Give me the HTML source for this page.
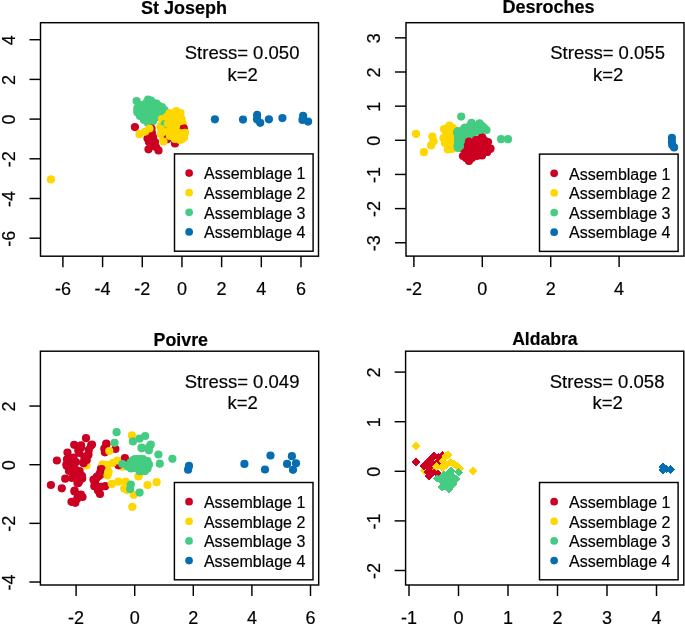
<!DOCTYPE html>
<html><head><meta charset="utf-8"><style>
html,body{margin:0;padding:0;background:#fff;width:685px;height:626px;overflow:hidden}
svg{display:block;will-change:transform}
text{font-family:"Liberation Sans",sans-serif;fill:#000;stroke:#000;stroke-width:0.18px}
</style></head><body>
<svg width="685" height="626" viewBox="0 0 685 626">
<rect width="685" height="626" fill="#fff"/>
<clipPath id="cStJoseph"><rect x="40.5" y="22.7" width="278" height="233.5"/></clipPath>
<g clip-path="url(#cStJoseph)">
<circle cx="141.5" cy="105" r="4.1" fill="#44CC82"/>
<circle cx="148.1" cy="99.5" r="4.1" fill="#44CC82"/>
<circle cx="151" cy="100.5" r="4.1" fill="#44CC82"/>
<circle cx="156.5" cy="103.5" r="4.1" fill="#44CC82"/>
<circle cx="162" cy="107" r="4.1" fill="#44CC82"/>
<circle cx="164.5" cy="110" r="4.1" fill="#44CC82"/>
<circle cx="160" cy="113" r="4.1" fill="#44CC82"/>
<circle cx="156" cy="117" r="4.1" fill="#44CC82"/>
<circle cx="153" cy="121" r="4.1" fill="#44CC82"/>
<circle cx="148" cy="123" r="4.1" fill="#44CC82"/>
<circle cx="144" cy="120" r="4.1" fill="#44CC82"/>
<circle cx="140" cy="116" r="4.1" fill="#44CC82"/>
<circle cx="137.5" cy="112.5" r="4.1" fill="#44CC82"/>
<circle cx="137.5" cy="108" r="4.1" fill="#44CC82"/>
<circle cx="146.5" cy="102.5" r="4.1" fill="#44CC82"/>
<circle cx="149.5" cy="102.5" r="4.1" fill="#44CC82"/>
<circle cx="152.5" cy="102.5" r="4.1" fill="#44CC82"/>
<circle cx="143.5" cy="105.5" r="4.1" fill="#44CC82"/>
<circle cx="146.5" cy="105.5" r="4.1" fill="#44CC82"/>
<circle cx="149.5" cy="105.5" r="4.1" fill="#44CC82"/>
<circle cx="152.5" cy="105.5" r="4.1" fill="#44CC82"/>
<circle cx="155.5" cy="105.5" r="4.1" fill="#44CC82"/>
<circle cx="158.5" cy="105.5" r="4.1" fill="#44CC82"/>
<circle cx="137.5" cy="108.5" r="4.1" fill="#44CC82"/>
<circle cx="140.5" cy="108.5" r="4.1" fill="#44CC82"/>
<circle cx="143.5" cy="108.5" r="4.1" fill="#44CC82"/>
<circle cx="146.5" cy="108.5" r="4.1" fill="#44CC82"/>
<circle cx="149.5" cy="108.5" r="4.1" fill="#44CC82"/>
<circle cx="152.5" cy="108.5" r="4.1" fill="#44CC82"/>
<circle cx="155.5" cy="108.5" r="4.1" fill="#44CC82"/>
<circle cx="158.5" cy="108.5" r="4.1" fill="#44CC82"/>
<circle cx="161.5" cy="108.5" r="4.1" fill="#44CC82"/>
<circle cx="137.5" cy="111.5" r="4.1" fill="#44CC82"/>
<circle cx="140.5" cy="111.5" r="4.1" fill="#44CC82"/>
<circle cx="143.5" cy="111.5" r="4.1" fill="#44CC82"/>
<circle cx="146.5" cy="111.5" r="4.1" fill="#44CC82"/>
<circle cx="149.5" cy="111.5" r="4.1" fill="#44CC82"/>
<circle cx="152.5" cy="111.5" r="4.1" fill="#44CC82"/>
<circle cx="155.5" cy="111.5" r="4.1" fill="#44CC82"/>
<circle cx="158.5" cy="111.5" r="4.1" fill="#44CC82"/>
<circle cx="161.5" cy="111.5" r="4.1" fill="#44CC82"/>
<circle cx="140.5" cy="114.5" r="4.1" fill="#44CC82"/>
<circle cx="143.5" cy="114.5" r="4.1" fill="#44CC82"/>
<circle cx="146.5" cy="114.5" r="4.1" fill="#44CC82"/>
<circle cx="149.5" cy="114.5" r="4.1" fill="#44CC82"/>
<circle cx="152.5" cy="114.5" r="4.1" fill="#44CC82"/>
<circle cx="155.5" cy="114.5" r="4.1" fill="#44CC82"/>
<circle cx="158.5" cy="114.5" r="4.1" fill="#44CC82"/>
<circle cx="143.5" cy="117.5" r="4.1" fill="#44CC82"/>
<circle cx="146.5" cy="117.5" r="4.1" fill="#44CC82"/>
<circle cx="149.5" cy="117.5" r="4.1" fill="#44CC82"/>
<circle cx="152.5" cy="117.5" r="4.1" fill="#44CC82"/>
<circle cx="155.5" cy="117.5" r="4.1" fill="#44CC82"/>
<circle cx="146.5" cy="120.5" r="4.1" fill="#44CC82"/>
<circle cx="149.5" cy="120.5" r="4.1" fill="#44CC82"/>
<circle cx="152.5" cy="120.5" r="4.1" fill="#44CC82"/>
<circle cx="136.6" cy="101.1" r="4.1" fill="#44CC82"/>
<circle cx="151.5" cy="128.5" r="4.1" fill="#CB0022"/>
<circle cx="152" cy="133" r="4.1" fill="#CB0022"/>
<circle cx="153" cy="137" r="4.1" fill="#CB0022"/>
<circle cx="147.5" cy="138.5" r="4.1" fill="#CB0022"/>
<circle cx="149" cy="142" r="4.1" fill="#CB0022"/>
<circle cx="155" cy="142" r="4.1" fill="#CB0022"/>
<circle cx="153.5" cy="146" r="4.1" fill="#CB0022"/>
<circle cx="148.5" cy="149.3" r="4.1" fill="#CB0022"/>
<circle cx="158.5" cy="150.4" r="4.1" fill="#CB0022"/>
<circle cx="156" cy="147" r="4.1" fill="#CB0022"/>
<circle cx="134.9" cy="127.1" r="4.1" fill="#CB0022"/>
<circle cx="139.5" cy="134.2" r="4.1" fill="#FFD700"/>
<circle cx="145.2" cy="131.6" r="4.1" fill="#FFD700"/>
<circle cx="149.5" cy="128.5" r="4.1" fill="#FFD700"/>
<circle cx="169.5" cy="113" r="4.1" fill="#FFD700"/>
<circle cx="176.3" cy="111.2" r="4.1" fill="#FFD700"/>
<circle cx="180.5" cy="113" r="4.1" fill="#FFD700"/>
<circle cx="181.5" cy="119" r="4.1" fill="#FFD700"/>
<circle cx="183" cy="124" r="4.1" fill="#FFD700"/>
<circle cx="185" cy="132.5" r="4.1" fill="#FFD700"/>
<circle cx="184" cy="137.5" r="4.1" fill="#FFD700"/>
<circle cx="182" cy="139" r="4.1" fill="#FFD700"/>
<circle cx="178" cy="138" r="4.1" fill="#FFD700"/>
<circle cx="171" cy="137.5" r="4.1" fill="#FFD700"/>
<circle cx="163.5" cy="139.5" r="4.1" fill="#FFD700"/>
<circle cx="161" cy="134" r="4.1" fill="#FFD700"/>
<circle cx="160.5" cy="126" r="4.1" fill="#FFD700"/>
<circle cx="162" cy="119" r="4.1" fill="#FFD700"/>
<circle cx="169.5" cy="114.2" r="4.1" fill="#FFD700"/>
<circle cx="172.5" cy="114.2" r="4.1" fill="#FFD700"/>
<circle cx="175.5" cy="114.2" r="4.1" fill="#FFD700"/>
<circle cx="178.5" cy="114.2" r="4.1" fill="#FFD700"/>
<circle cx="166.5" cy="117.2" r="4.1" fill="#FFD700"/>
<circle cx="169.5" cy="117.2" r="4.1" fill="#FFD700"/>
<circle cx="172.5" cy="117.2" r="4.1" fill="#FFD700"/>
<circle cx="175.5" cy="117.2" r="4.1" fill="#FFD700"/>
<circle cx="178.5" cy="117.2" r="4.1" fill="#FFD700"/>
<circle cx="163.5" cy="120.2" r="4.1" fill="#FFD700"/>
<circle cx="166.5" cy="120.2" r="4.1" fill="#FFD700"/>
<circle cx="169.5" cy="120.2" r="4.1" fill="#FFD700"/>
<circle cx="172.5" cy="120.2" r="4.1" fill="#FFD700"/>
<circle cx="175.5" cy="120.2" r="4.1" fill="#FFD700"/>
<circle cx="178.5" cy="120.2" r="4.1" fill="#FFD700"/>
<circle cx="181.5" cy="120.2" r="4.1" fill="#FFD700"/>
<circle cx="163.5" cy="123.2" r="4.1" fill="#FFD700"/>
<circle cx="166.5" cy="123.2" r="4.1" fill="#FFD700"/>
<circle cx="169.5" cy="123.2" r="4.1" fill="#FFD700"/>
<circle cx="172.5" cy="123.2" r="4.1" fill="#FFD700"/>
<circle cx="175.5" cy="123.2" r="4.1" fill="#FFD700"/>
<circle cx="178.5" cy="123.2" r="4.1" fill="#FFD700"/>
<circle cx="181.5" cy="123.2" r="4.1" fill="#FFD700"/>
<circle cx="163.5" cy="126.2" r="4.1" fill="#FFD700"/>
<circle cx="166.5" cy="126.2" r="4.1" fill="#FFD700"/>
<circle cx="169.5" cy="126.2" r="4.1" fill="#FFD700"/>
<circle cx="172.5" cy="126.2" r="4.1" fill="#FFD700"/>
<circle cx="175.5" cy="126.2" r="4.1" fill="#FFD700"/>
<circle cx="178.5" cy="126.2" r="4.1" fill="#FFD700"/>
<circle cx="181.5" cy="126.2" r="4.1" fill="#FFD700"/>
<circle cx="163.5" cy="129.2" r="4.1" fill="#FFD700"/>
<circle cx="166.5" cy="129.2" r="4.1" fill="#FFD700"/>
<circle cx="169.5" cy="129.2" r="4.1" fill="#FFD700"/>
<circle cx="172.5" cy="129.2" r="4.1" fill="#FFD700"/>
<circle cx="175.5" cy="129.2" r="4.1" fill="#FFD700"/>
<circle cx="178.5" cy="129.2" r="4.1" fill="#FFD700"/>
<circle cx="181.5" cy="129.2" r="4.1" fill="#FFD700"/>
<circle cx="163.5" cy="132.2" r="4.1" fill="#FFD700"/>
<circle cx="166.5" cy="132.2" r="4.1" fill="#FFD700"/>
<circle cx="169.5" cy="132.2" r="4.1" fill="#FFD700"/>
<circle cx="172.5" cy="132.2" r="4.1" fill="#FFD700"/>
<circle cx="175.5" cy="132.2" r="4.1" fill="#FFD700"/>
<circle cx="178.5" cy="132.2" r="4.1" fill="#FFD700"/>
<circle cx="181.5" cy="132.2" r="4.1" fill="#FFD700"/>
<circle cx="184.5" cy="132.2" r="4.1" fill="#FFD700"/>
<circle cx="163.5" cy="135.2" r="4.1" fill="#FFD700"/>
<circle cx="166.5" cy="135.2" r="4.1" fill="#FFD700"/>
<circle cx="169.5" cy="135.2" r="4.1" fill="#FFD700"/>
<circle cx="172.5" cy="135.2" r="4.1" fill="#FFD700"/>
<circle cx="175.5" cy="135.2" r="4.1" fill="#FFD700"/>
<circle cx="178.5" cy="135.2" r="4.1" fill="#FFD700"/>
<circle cx="181.5" cy="135.2" r="4.1" fill="#FFD700"/>
<circle cx="163.5" cy="138.2" r="4.1" fill="#FFD700"/>
<circle cx="166.5" cy="138.2" r="4.1" fill="#FFD700"/>
<circle cx="181.5" cy="138.2" r="4.1" fill="#FFD700"/>
<circle cx="183.8" cy="128.3" r="4.1" fill="#CB0022"/>
<circle cx="185" cy="132.8" r="4.1" fill="#FFD700"/>
<circle cx="180" cy="133" r="4.1" fill="#FFD700"/>
<circle cx="181" cy="121" r="4.1" fill="#FFD700"/>
<circle cx="175" cy="143.5" r="4.1" fill="#CB0022"/>
<circle cx="167.3" cy="139.2" r="4.1" fill="#CB0022"/>
<circle cx="175" cy="139" r="4.1" fill="#FFD700"/>
<circle cx="170" cy="136" r="4.1" fill="#FFD700"/>
<circle cx="163.5" cy="141.5" r="4.1" fill="#FFD700"/>
<circle cx="180" cy="140" r="4.1" fill="#FFD700"/>
<circle cx="164.8" cy="124" r="4.1" fill="#44CC82"/>
<circle cx="167.8" cy="123.5" r="4.1" fill="#FFD700"/>
<circle cx="161" cy="129" r="4.1" fill="#FFD700"/>
<circle cx="50.9" cy="179.4" r="4.1" fill="#FFD700"/>
<circle cx="214.9" cy="119.3" r="4.1" fill="#066EB0"/>
<circle cx="243" cy="119.6" r="4.1" fill="#066EB0"/>
<circle cx="257.1" cy="114.9" r="4.1" fill="#066EB0"/>
<circle cx="257" cy="119.3" r="4.1" fill="#066EB0"/>
<circle cx="260.2" cy="122.8" r="4.1" fill="#066EB0"/>
<circle cx="268.9" cy="119.3" r="4.1" fill="#066EB0"/>
<circle cx="282.4" cy="118.1" r="4.1" fill="#066EB0"/>
<circle cx="303.1" cy="115.8" r="4.1" fill="#066EB0"/>
<circle cx="302.5" cy="119.9" r="4.1" fill="#066EB0"/>
<circle cx="308.1" cy="121.6" r="4.1" fill="#066EB0"/>
</g>
<rect x="40.5" y="22.7" width="278" height="233.5" fill="none" stroke="#000" stroke-width="1.45"/>
<line x1="62.91" y1="256.2" x2="62.91" y2="267.2" stroke="#000" stroke-width="1.45"/>
<text x="62.91" y="295.4" text-anchor="middle" font-size="18">-6</text>
<line x1="102.59" y1="256.2" x2="102.59" y2="267.2" stroke="#000" stroke-width="1.45"/>
<text x="102.59" y="295.4" text-anchor="middle" font-size="18">-4</text>
<line x1="142.27" y1="256.2" x2="142.27" y2="267.2" stroke="#000" stroke-width="1.45"/>
<text x="142.27" y="295.4" text-anchor="middle" font-size="18">-2</text>
<line x1="181.95" y1="256.2" x2="181.95" y2="267.2" stroke="#000" stroke-width="1.45"/>
<text x="181.95" y="295.4" text-anchor="middle" font-size="18">0</text>
<line x1="221.63" y1="256.2" x2="221.63" y2="267.2" stroke="#000" stroke-width="1.45"/>
<text x="221.63" y="295.4" text-anchor="middle" font-size="18">2</text>
<line x1="261.31" y1="256.2" x2="261.31" y2="267.2" stroke="#000" stroke-width="1.45"/>
<text x="261.31" y="295.4" text-anchor="middle" font-size="18">4</text>
<line x1="300.99" y1="256.2" x2="300.99" y2="267.2" stroke="#000" stroke-width="1.45"/>
<text x="300.99" y="295.4" text-anchor="middle" font-size="18">6</text>
<line x1="40.5" y1="39.7" x2="29.5" y2="39.7" stroke="#000" stroke-width="1.45"/>
<text transform="translate(14.8 40.2) rotate(-90)" text-anchor="middle" font-size="18">4</text>
<line x1="40.5" y1="79.4" x2="29.5" y2="79.4" stroke="#000" stroke-width="1.45"/>
<text transform="translate(14.8 79.9) rotate(-90)" text-anchor="middle" font-size="18">2</text>
<line x1="40.5" y1="119.1" x2="29.5" y2="119.1" stroke="#000" stroke-width="1.45"/>
<text transform="translate(14.8 119.6) rotate(-90)" text-anchor="middle" font-size="18">0</text>
<line x1="40.5" y1="158.8" x2="29.5" y2="158.8" stroke="#000" stroke-width="1.45"/>
<text transform="translate(14.8 159.3) rotate(-90)" text-anchor="middle" font-size="18">-2</text>
<line x1="40.5" y1="198.5" x2="29.5" y2="198.5" stroke="#000" stroke-width="1.45"/>
<text transform="translate(14.8 199) rotate(-90)" text-anchor="middle" font-size="18">-4</text>
<line x1="40.5" y1="238.2" x2="29.5" y2="238.2" stroke="#000" stroke-width="1.45"/>
<text transform="translate(14.8 238.7) rotate(-90)" text-anchor="middle" font-size="18">-6</text>
<text x="183.9" y="14.2" text-anchor="middle" font-size="18" font-weight="bold">St Joseph</text>
<text x="242.1" y="59.2" text-anchor="middle" font-size="18.5">Stress= 0.050</text>
<text x="242.7" y="80.7" text-anchor="middle" font-size="18.5">k=2</text>
<rect x="174.5" y="153.9" width="138.6" height="97.3" fill="#fff" stroke="#000" stroke-width="1.45"/>
<circle cx="189.15" cy="173.1" r="3.85" fill="#CB0022"/>
<text x="204" y="179.3" font-size="16">Assemblage 1</text>
<circle cx="189.15" cy="192.72" r="3.85" fill="#FFD700"/>
<text x="204" y="198.92" font-size="16">Assemblage 2</text>
<circle cx="189.15" cy="212.34" r="3.85" fill="#44CC82"/>
<text x="204" y="218.54" font-size="16">Assemblage 3</text>
<circle cx="189.15" cy="231.96" r="3.85" fill="#066EB0"/>
<text x="204" y="238.16" font-size="16">Assemblage 4</text>
<clipPath id="cDesroches"><rect x="406" y="22.7" width="278" height="233.4"/></clipPath>
<g clip-path="url(#cDesroches)">
<circle cx="416" cy="133.9" r="4.1" fill="#FFD700"/>
<circle cx="423.9" cy="152.2" r="4.1" fill="#FFD700"/>
<circle cx="432.4" cy="136.7" r="4.1" fill="#FFD700"/>
<circle cx="433.6" cy="141.3" r="4.1" fill="#FFD700"/>
<circle cx="431.1" cy="145.4" r="4.1" fill="#FFD700"/>
<circle cx="444" cy="129" r="4.1" fill="#FFD700"/>
<circle cx="449.5" cy="125.5" r="4.1" fill="#FFD700"/>
<circle cx="453" cy="128" r="4.1" fill="#FFD700"/>
<circle cx="455" cy="133" r="4.1" fill="#FFD700"/>
<circle cx="453" cy="138" r="4.1" fill="#FFD700"/>
<circle cx="452" cy="145" r="4.1" fill="#FFD700"/>
<circle cx="452" cy="149" r="4.1" fill="#FFD700"/>
<circle cx="447.8" cy="149.5" r="4.1" fill="#FFD700"/>
<circle cx="445" cy="143" r="4.1" fill="#FFD700"/>
<circle cx="443.5" cy="138" r="4.1" fill="#FFD700"/>
<circle cx="446.5" cy="128.5" r="4.1" fill="#FFD700"/>
<circle cx="449.5" cy="128.5" r="4.1" fill="#FFD700"/>
<circle cx="452.5" cy="128.5" r="4.1" fill="#FFD700"/>
<circle cx="446.5" cy="131.5" r="4.1" fill="#FFD700"/>
<circle cx="449.5" cy="131.5" r="4.1" fill="#FFD700"/>
<circle cx="452.5" cy="131.5" r="4.1" fill="#FFD700"/>
<circle cx="446.5" cy="134.5" r="4.1" fill="#FFD700"/>
<circle cx="449.5" cy="134.5" r="4.1" fill="#FFD700"/>
<circle cx="452.5" cy="134.5" r="4.1" fill="#FFD700"/>
<circle cx="446.5" cy="137.5" r="4.1" fill="#FFD700"/>
<circle cx="449.5" cy="137.5" r="4.1" fill="#FFD700"/>
<circle cx="452.5" cy="137.5" r="4.1" fill="#FFD700"/>
<circle cx="446.5" cy="140.5" r="4.1" fill="#FFD700"/>
<circle cx="449.5" cy="140.5" r="4.1" fill="#FFD700"/>
<circle cx="452.5" cy="140.5" r="4.1" fill="#FFD700"/>
<circle cx="446.5" cy="143.5" r="4.1" fill="#FFD700"/>
<circle cx="449.5" cy="143.5" r="4.1" fill="#FFD700"/>
<circle cx="449.5" cy="146.5" r="4.1" fill="#FFD700"/>
<circle cx="465" cy="145" r="4.1" fill="#CB0022"/>
<circle cx="474" cy="142.5" r="4.1" fill="#CB0022"/>
<circle cx="482" cy="137" r="4.1" fill="#CB0022"/>
<circle cx="488" cy="142" r="4.1" fill="#CB0022"/>
<circle cx="490.5" cy="148.5" r="4.1" fill="#CB0022"/>
<circle cx="487" cy="152" r="4.1" fill="#CB0022"/>
<circle cx="482" cy="155.5" r="4.1" fill="#CB0022"/>
<circle cx="477" cy="156" r="4.1" fill="#CB0022"/>
<circle cx="469" cy="161" r="4.1" fill="#CB0022"/>
<circle cx="463" cy="156" r="4.1" fill="#CB0022"/>
<circle cx="463.5" cy="149" r="4.1" fill="#CB0022"/>
<circle cx="478" cy="140" r="4.1" fill="#CB0022"/>
<circle cx="481" cy="140" r="4.1" fill="#CB0022"/>
<circle cx="484" cy="140" r="4.1" fill="#CB0022"/>
<circle cx="475" cy="143" r="4.1" fill="#CB0022"/>
<circle cx="478" cy="143" r="4.1" fill="#CB0022"/>
<circle cx="481" cy="143" r="4.1" fill="#CB0022"/>
<circle cx="484" cy="143" r="4.1" fill="#CB0022"/>
<circle cx="487" cy="143" r="4.1" fill="#CB0022"/>
<circle cx="466" cy="146" r="4.1" fill="#CB0022"/>
<circle cx="469" cy="146" r="4.1" fill="#CB0022"/>
<circle cx="472" cy="146" r="4.1" fill="#CB0022"/>
<circle cx="475" cy="146" r="4.1" fill="#CB0022"/>
<circle cx="478" cy="146" r="4.1" fill="#CB0022"/>
<circle cx="481" cy="146" r="4.1" fill="#CB0022"/>
<circle cx="484" cy="146" r="4.1" fill="#CB0022"/>
<circle cx="487" cy="146" r="4.1" fill="#CB0022"/>
<circle cx="466" cy="149" r="4.1" fill="#CB0022"/>
<circle cx="469" cy="149" r="4.1" fill="#CB0022"/>
<circle cx="472" cy="149" r="4.1" fill="#CB0022"/>
<circle cx="475" cy="149" r="4.1" fill="#CB0022"/>
<circle cx="478" cy="149" r="4.1" fill="#CB0022"/>
<circle cx="481" cy="149" r="4.1" fill="#CB0022"/>
<circle cx="484" cy="149" r="4.1" fill="#CB0022"/>
<circle cx="487" cy="149" r="4.1" fill="#CB0022"/>
<circle cx="490" cy="149" r="4.1" fill="#CB0022"/>
<circle cx="466" cy="152" r="4.1" fill="#CB0022"/>
<circle cx="469" cy="152" r="4.1" fill="#CB0022"/>
<circle cx="472" cy="152" r="4.1" fill="#CB0022"/>
<circle cx="475" cy="152" r="4.1" fill="#CB0022"/>
<circle cx="478" cy="152" r="4.1" fill="#CB0022"/>
<circle cx="481" cy="152" r="4.1" fill="#CB0022"/>
<circle cx="484" cy="152" r="4.1" fill="#CB0022"/>
<circle cx="487" cy="152" r="4.1" fill="#CB0022"/>
<circle cx="466" cy="155" r="4.1" fill="#CB0022"/>
<circle cx="469" cy="155" r="4.1" fill="#CB0022"/>
<circle cx="472" cy="155" r="4.1" fill="#CB0022"/>
<circle cx="475" cy="155" r="4.1" fill="#CB0022"/>
<circle cx="478" cy="155" r="4.1" fill="#CB0022"/>
<circle cx="481" cy="155" r="4.1" fill="#CB0022"/>
<circle cx="466" cy="158" r="4.1" fill="#CB0022"/>
<circle cx="469" cy="158" r="4.1" fill="#CB0022"/>
<circle cx="472" cy="158" r="4.1" fill="#CB0022"/>
<circle cx="458" cy="131" r="4.1" fill="#44CC82"/>
<circle cx="465" cy="127.5" r="4.1" fill="#44CC82"/>
<circle cx="471.5" cy="122.8" r="4.1" fill="#44CC82"/>
<circle cx="479.5" cy="123.3" r="4.1" fill="#44CC82"/>
<circle cx="484" cy="127.5" r="4.1" fill="#44CC82"/>
<circle cx="480" cy="130" r="4.1" fill="#44CC82"/>
<circle cx="472" cy="134" r="4.1" fill="#44CC82"/>
<circle cx="463" cy="137" r="4.1" fill="#44CC82"/>
<circle cx="460" cy="146" r="4.1" fill="#44CC82"/>
<circle cx="458" cy="148" r="4.1" fill="#44CC82"/>
<circle cx="458" cy="141" r="4.1" fill="#44CC82"/>
<circle cx="470" cy="125.8" r="4.1" fill="#44CC82"/>
<circle cx="473" cy="125.8" r="4.1" fill="#44CC82"/>
<circle cx="476" cy="125.8" r="4.1" fill="#44CC82"/>
<circle cx="479" cy="125.8" r="4.1" fill="#44CC82"/>
<circle cx="482" cy="125.8" r="4.1" fill="#44CC82"/>
<circle cx="464" cy="128.8" r="4.1" fill="#44CC82"/>
<circle cx="467" cy="128.8" r="4.1" fill="#44CC82"/>
<circle cx="470" cy="128.8" r="4.1" fill="#44CC82"/>
<circle cx="473" cy="128.8" r="4.1" fill="#44CC82"/>
<circle cx="476" cy="128.8" r="4.1" fill="#44CC82"/>
<circle cx="479" cy="128.8" r="4.1" fill="#44CC82"/>
<circle cx="458" cy="131.8" r="4.1" fill="#44CC82"/>
<circle cx="461" cy="131.8" r="4.1" fill="#44CC82"/>
<circle cx="464" cy="131.8" r="4.1" fill="#44CC82"/>
<circle cx="467" cy="131.8" r="4.1" fill="#44CC82"/>
<circle cx="470" cy="131.8" r="4.1" fill="#44CC82"/>
<circle cx="473" cy="131.8" r="4.1" fill="#44CC82"/>
<circle cx="476" cy="131.8" r="4.1" fill="#44CC82"/>
<circle cx="458" cy="134.8" r="4.1" fill="#44CC82"/>
<circle cx="461" cy="134.8" r="4.1" fill="#44CC82"/>
<circle cx="464" cy="134.8" r="4.1" fill="#44CC82"/>
<circle cx="467" cy="134.8" r="4.1" fill="#44CC82"/>
<circle cx="458" cy="137.8" r="4.1" fill="#44CC82"/>
<circle cx="461" cy="137.8" r="4.1" fill="#44CC82"/>
<circle cx="458" cy="140.8" r="4.1" fill="#44CC82"/>
<circle cx="461" cy="140.8" r="4.1" fill="#44CC82"/>
<circle cx="458" cy="143.8" r="4.1" fill="#44CC82"/>
<circle cx="458" cy="146.8" r="4.1" fill="#44CC82"/>
<circle cx="469" cy="141.5" r="4.1" fill="#CB0022"/>
<circle cx="476" cy="140" r="4.1" fill="#CB0022"/>
<circle cx="482" cy="138" r="4.1" fill="#CB0022"/>
<circle cx="457" cy="132.5" r="4.1" fill="#44CC82"/>
<circle cx="486.5" cy="130" r="4.1" fill="#44CC82"/>
<circle cx="457.5" cy="146.5" r="4.1" fill="#44CC82"/>
<circle cx="461.2" cy="116.6" r="4.1" fill="#44CC82"/>
<circle cx="501.1" cy="139.2" r="4.1" fill="#44CC82"/>
<circle cx="508" cy="139.2" r="4.1" fill="#44CC82"/>
<circle cx="671.9" cy="137.9" r="4.1" fill="#066EB0"/>
<circle cx="671.9" cy="142" r="4.1" fill="#066EB0"/>
<circle cx="672.2" cy="144.9" r="4.1" fill="#066EB0"/>
<circle cx="674.1" cy="147.4" r="4.1" fill="#066EB0"/>
</g>
<rect x="406" y="22.7" width="278" height="233.4" fill="none" stroke="#000" stroke-width="1.45"/>
<line x1="413.9" y1="256.1" x2="413.9" y2="267.1" stroke="#000" stroke-width="1.45"/>
<text x="413.9" y="295.3" text-anchor="middle" font-size="18">-2</text>
<line x1="482.3" y1="256.1" x2="482.3" y2="267.1" stroke="#000" stroke-width="1.45"/>
<text x="482.3" y="295.3" text-anchor="middle" font-size="18">0</text>
<line x1="550.7" y1="256.1" x2="550.7" y2="267.1" stroke="#000" stroke-width="1.45"/>
<text x="550.7" y="295.3" text-anchor="middle" font-size="18">2</text>
<line x1="619.1" y1="256.1" x2="619.1" y2="267.1" stroke="#000" stroke-width="1.45"/>
<text x="619.1" y="295.3" text-anchor="middle" font-size="18">4</text>
<line x1="406" y1="37.85" x2="395" y2="37.85" stroke="#000" stroke-width="1.45"/>
<text transform="translate(380.3 38.35) rotate(-90)" text-anchor="middle" font-size="18">3</text>
<line x1="406" y1="72" x2="395" y2="72" stroke="#000" stroke-width="1.45"/>
<text transform="translate(380.3 72.5) rotate(-90)" text-anchor="middle" font-size="18">2</text>
<line x1="406" y1="106.15" x2="395" y2="106.15" stroke="#000" stroke-width="1.45"/>
<text transform="translate(380.3 106.65) rotate(-90)" text-anchor="middle" font-size="18">1</text>
<line x1="406" y1="140.3" x2="395" y2="140.3" stroke="#000" stroke-width="1.45"/>
<text transform="translate(380.3 140.8) rotate(-90)" text-anchor="middle" font-size="18">0</text>
<line x1="406" y1="174.45" x2="395" y2="174.45" stroke="#000" stroke-width="1.45"/>
<text transform="translate(380.3 174.95) rotate(-90)" text-anchor="middle" font-size="18">-1</text>
<line x1="406" y1="208.6" x2="395" y2="208.6" stroke="#000" stroke-width="1.45"/>
<text transform="translate(380.3 209.1) rotate(-90)" text-anchor="middle" font-size="18">-2</text>
<line x1="406" y1="242.75" x2="395" y2="242.75" stroke="#000" stroke-width="1.45"/>
<text transform="translate(380.3 243.25) rotate(-90)" text-anchor="middle" font-size="18">-3</text>
<text x="548.6" y="13.4" text-anchor="middle" font-size="18" font-weight="bold">Desroches</text>
<text x="607.6" y="59.2" text-anchor="middle" font-size="18.5">Stress= 0.055</text>
<text x="608.2" y="80.7" text-anchor="middle" font-size="18.5">k=2</text>
<rect x="539.5" y="154.1" width="138.6" height="97.3" fill="#fff" stroke="#000" stroke-width="1.45"/>
<circle cx="554.15" cy="173.3" r="3.85" fill="#CB0022"/>
<text x="569" y="179.5" font-size="16">Assemblage 1</text>
<circle cx="554.15" cy="192.92" r="3.85" fill="#FFD700"/>
<text x="569" y="199.12" font-size="16">Assemblage 2</text>
<circle cx="554.15" cy="212.54" r="3.85" fill="#44CC82"/>
<text x="569" y="218.74" font-size="16">Assemblage 3</text>
<circle cx="554.15" cy="232.16" r="3.85" fill="#066EB0"/>
<text x="569" y="238.36" font-size="16">Assemblage 4</text>
<clipPath id="cPoivre"><rect x="40.4" y="351.2" width="278.3" height="233.8"/></clipPath>
<g clip-path="url(#cPoivre)">
<circle cx="86.5" cy="465.5" r="4.1" fill="#FFD700"/>
<circle cx="138.4" cy="476.5" r="4.1" fill="#FFD700"/>
<circle cx="122.6" cy="466.7" r="4.1" fill="#FFD700"/>
<circle cx="138.8" cy="475.8" r="4.1" fill="#FFD700"/>
<circle cx="56.9" cy="460.5" r="4.1" fill="#CB0022"/>
<circle cx="50.9" cy="485" r="4.1" fill="#CB0022"/>
<circle cx="61.8" cy="488.3" r="4.1" fill="#CB0022"/>
<circle cx="65.2" cy="478.7" r="4.1" fill="#CB0022"/>
<circle cx="86" cy="438.2" r="4.1" fill="#CB0022"/>
<circle cx="74.2" cy="444.8" r="4.1" fill="#CB0022"/>
<circle cx="67.5" cy="452.5" r="4.1" fill="#CB0022"/>
<circle cx="70.7" cy="458.2" r="4.1" fill="#CB0022"/>
<circle cx="66.8" cy="465.9" r="4.1" fill="#CB0022"/>
<circle cx="73.2" cy="467.2" r="4.1" fill="#CB0022"/>
<circle cx="71.9" cy="472.3" r="4.1" fill="#CB0022"/>
<circle cx="77" cy="476.1" r="4.1" fill="#CB0022"/>
<circle cx="82.2" cy="478.6" r="4.1" fill="#CB0022"/>
<circle cx="78.3" cy="483.1" r="4.1" fill="#CB0022"/>
<circle cx="75.1" cy="462" r="4.1" fill="#CB0022"/>
<circle cx="79.6" cy="471" r="4.1" fill="#CB0022"/>
<circle cx="80.9" cy="448" r="4.1" fill="#CB0022"/>
<circle cx="91.1" cy="445.4" r="4.1" fill="#CB0022"/>
<circle cx="88.5" cy="454.4" r="4.1" fill="#CB0022"/>
<circle cx="84.7" cy="459.5" r="4.1" fill="#CB0022"/>
<circle cx="83.4" cy="462.5" r="4.1" fill="#CB0022"/>
<circle cx="78.3" cy="450.5" r="4.1" fill="#CB0022"/>
<circle cx="74.5" cy="491.6" r="4.1" fill="#CB0022"/>
<circle cx="80.9" cy="494.6" r="4.1" fill="#CB0022"/>
<circle cx="82.5" cy="497" r="4.1" fill="#CB0022"/>
<circle cx="71.5" cy="501.8" r="4.1" fill="#CB0022"/>
<circle cx="77" cy="499.1" r="4.1" fill="#CB0022"/>
<circle cx="75.3" cy="502.8" r="4.1" fill="#CB0022"/>
<circle cx="96.2" cy="478.6" r="4.1" fill="#CB0022"/>
<circle cx="94.9" cy="483.8" r="4.1" fill="#CB0022"/>
<circle cx="100" cy="494" r="4.1" fill="#CB0022"/>
<circle cx="105.2" cy="486.2" r="4.1" fill="#CB0022"/>
<circle cx="101.3" cy="468.4" r="4.1" fill="#CB0022"/>
<circle cx="98.8" cy="476.1" r="4.1" fill="#CB0022"/>
<circle cx="106.4" cy="444.2" r="4.1" fill="#CB0022"/>
<circle cx="105.1" cy="451.8" r="4.1" fill="#CB0022"/>
<circle cx="104.9" cy="452.3" r="4.1" fill="#CB0022"/>
<circle cx="115.4" cy="449" r="4.1" fill="#CB0022"/>
<circle cx="124.9" cy="458.2" r="4.1" fill="#CB0022"/>
<circle cx="118.4" cy="465.3" r="4.1" fill="#CB0022"/>
<circle cx="92" cy="444.6" r="4.1" fill="#CB0022"/>
<circle cx="104.3" cy="448.7" r="4.1" fill="#CB0022"/>
<circle cx="106.3" cy="443.6" r="4.1" fill="#CB0022"/>
<circle cx="79" cy="481.7" r="4.1" fill="#CB0022"/>
<circle cx="76.1" cy="474.4" r="4.1" fill="#CB0022"/>
<circle cx="81.9" cy="475.8" r="4.1" fill="#CB0022"/>
<circle cx="95" cy="483.1" r="4.1" fill="#CB0022"/>
<circle cx="100.9" cy="474.4" r="4.1" fill="#CB0022"/>
<circle cx="81.1" cy="445.3" r="4.1" fill="#CB0022"/>
<circle cx="88.8" cy="449.8" r="4.1" fill="#CB0022"/>
<circle cx="88.1" cy="454.9" r="4.1" fill="#CB0022"/>
<circle cx="79.2" cy="453" r="4.1" fill="#CB0022"/>
<circle cx="84.3" cy="456.8" r="4.1" fill="#CB0022"/>
<circle cx="83.6" cy="463.2" r="4.1" fill="#CB0022"/>
<circle cx="86.8" cy="460" r="4.1" fill="#CB0022"/>
<circle cx="73.4" cy="457.5" r="4.1" fill="#CB0022"/>
<circle cx="76" cy="462" r="4.1" fill="#CB0022"/>
<circle cx="67" cy="459.4" r="4.1" fill="#CB0022"/>
<circle cx="66.4" cy="464.5" r="4.1" fill="#CB0022"/>
<circle cx="71.5" cy="465.8" r="4.1" fill="#CB0022"/>
<circle cx="94.3" cy="480.3" r="4.1" fill="#CB0022"/>
<circle cx="94.3" cy="486.2" r="4.1" fill="#CB0022"/>
<circle cx="100.9" cy="486.9" r="4.1" fill="#CB0022"/>
<circle cx="98" cy="490.5" r="4.1" fill="#CB0022"/>
<circle cx="98" cy="476" r="4.1" fill="#CB0022"/>
<circle cx="100.9" cy="469.4" r="4.1" fill="#CB0022"/>
<circle cx="77.5" cy="483.2" r="4.1" fill="#CB0022"/>
<circle cx="74.6" cy="490.5" r="4.1" fill="#CB0022"/>
<circle cx="78.2" cy="495.7" r="4.1" fill="#CB0022"/>
<circle cx="72" cy="478" r="4.1" fill="#CB0022"/>
<circle cx="69" cy="471" r="4.1" fill="#CB0022"/>
<circle cx="75" cy="469" r="4.1" fill="#CB0022"/>
<circle cx="102.6" cy="464.3" r="4.1" fill="#FFD700"/>
<circle cx="107.5" cy="465" r="4.1" fill="#FFD700"/>
<circle cx="112.5" cy="463" r="4.1" fill="#FFD700"/>
<circle cx="117.2" cy="460.5" r="4.1" fill="#FFD700"/>
<circle cx="101.5" cy="469" r="4.1" fill="#CB0022"/>
<circle cx="100" cy="473" r="4.1" fill="#CB0022"/>
<circle cx="96.8" cy="476.9" r="4.1" fill="#CB0022"/>
<circle cx="93.5" cy="479.5" r="4.1" fill="#CB0022"/>
<circle cx="108.5" cy="471.5" r="4.1" fill="#FFD700"/>
<circle cx="107.5" cy="475.5" r="4.1" fill="#FFD700"/>
<circle cx="109.3" cy="451" r="4.1" fill="#FFD700"/>
<circle cx="131.9" cy="435.4" r="4.1" fill="#FFD700"/>
<circle cx="111.8" cy="483.9" r="4.1" fill="#FFD700"/>
<circle cx="118.4" cy="481.7" r="4.1" fill="#FFD700"/>
<circle cx="125.7" cy="481.7" r="4.1" fill="#FFD700"/>
<circle cx="124.2" cy="488.5" r="4.1" fill="#FFD700"/>
<circle cx="127" cy="490.1" r="4.1" fill="#FFD700"/>
<circle cx="133.7" cy="494.8" r="4.1" fill="#FFD700"/>
<circle cx="147.5" cy="485" r="4.1" fill="#FFD700"/>
<circle cx="156.6" cy="482.2" r="4.1" fill="#FFD700"/>
<circle cx="132.3" cy="506.8" r="4.1" fill="#FFD700"/>
<circle cx="108.2" cy="472.9" r="4.1" fill="#FFD700"/>
<circle cx="135" cy="459" r="4.1" fill="#44CC82"/>
<circle cx="143" cy="459" r="4.1" fill="#44CC82"/>
<circle cx="147.5" cy="461" r="4.1" fill="#44CC82"/>
<circle cx="149" cy="464.5" r="4.1" fill="#44CC82"/>
<circle cx="147.5" cy="468.5" r="4.1" fill="#44CC82"/>
<circle cx="145" cy="471" r="4.1" fill="#44CC82"/>
<circle cx="139.7" cy="471.2" r="4.1" fill="#44CC82"/>
<circle cx="131" cy="468.5" r="4.1" fill="#44CC82"/>
<circle cx="128.5" cy="466.5" r="4.1" fill="#44CC82"/>
<circle cx="130.5" cy="462.5" r="4.1" fill="#44CC82"/>
<circle cx="133" cy="460" r="4.1" fill="#44CC82"/>
<circle cx="137.5" cy="459" r="4.1" fill="#44CC82"/>
<circle cx="140.5" cy="459" r="4.1" fill="#44CC82"/>
<circle cx="131.5" cy="462" r="4.1" fill="#44CC82"/>
<circle cx="134.5" cy="462" r="4.1" fill="#44CC82"/>
<circle cx="137.5" cy="462" r="4.1" fill="#44CC82"/>
<circle cx="140.5" cy="462" r="4.1" fill="#44CC82"/>
<circle cx="143.5" cy="462" r="4.1" fill="#44CC82"/>
<circle cx="146.5" cy="462" r="4.1" fill="#44CC82"/>
<circle cx="131.5" cy="465" r="4.1" fill="#44CC82"/>
<circle cx="134.5" cy="465" r="4.1" fill="#44CC82"/>
<circle cx="137.5" cy="465" r="4.1" fill="#44CC82"/>
<circle cx="140.5" cy="465" r="4.1" fill="#44CC82"/>
<circle cx="143.5" cy="465" r="4.1" fill="#44CC82"/>
<circle cx="146.5" cy="465" r="4.1" fill="#44CC82"/>
<circle cx="131.5" cy="468" r="4.1" fill="#44CC82"/>
<circle cx="134.5" cy="468" r="4.1" fill="#44CC82"/>
<circle cx="137.5" cy="468" r="4.1" fill="#44CC82"/>
<circle cx="140.5" cy="468" r="4.1" fill="#44CC82"/>
<circle cx="143.5" cy="468" r="4.1" fill="#44CC82"/>
<circle cx="146.5" cy="468" r="4.1" fill="#44CC82"/>
<circle cx="140.5" cy="471" r="4.1" fill="#44CC82"/>
<circle cx="143.5" cy="471" r="4.1" fill="#44CC82"/>
<circle cx="116.6" cy="432.2" r="4.1" fill="#44CC82"/>
<circle cx="114.5" cy="442.8" r="4.1" fill="#44CC82"/>
<circle cx="132.9" cy="441.4" r="4.1" fill="#44CC82"/>
<circle cx="139.6" cy="438.7" r="4.1" fill="#44CC82"/>
<circle cx="145.2" cy="436" r="4.1" fill="#44CC82"/>
<circle cx="141.6" cy="447.7" r="4.1" fill="#44CC82"/>
<circle cx="149.3" cy="446.7" r="4.1" fill="#44CC82"/>
<circle cx="150.8" cy="444.6" r="4.1" fill="#44CC82"/>
<circle cx="141.7" cy="448.3" r="4.1" fill="#44CC82"/>
<circle cx="148.9" cy="450.3" r="4.1" fill="#44CC82"/>
<circle cx="158.4" cy="454.5" r="4.1" fill="#44CC82"/>
<circle cx="159.8" cy="463.7" r="4.1" fill="#44CC82"/>
<circle cx="172.4" cy="458.8" r="4.1" fill="#44CC82"/>
<circle cx="130.8" cy="484.6" r="4.1" fill="#44CC82"/>
<circle cx="130.1" cy="489" r="4.1" fill="#44CC82"/>
<circle cx="139.6" cy="492.6" r="4.1" fill="#44CC82"/>
<circle cx="122.4" cy="464" r="4.1" fill="#44CC82"/>
<circle cx="127.7" cy="466.4" r="4.1" fill="#44CC82"/>
<circle cx="189" cy="465.9" r="4.1" fill="#066EB0"/>
<circle cx="188.1" cy="469.7" r="4.1" fill="#066EB0"/>
<circle cx="244.4" cy="463.9" r="4.1" fill="#066EB0"/>
<circle cx="270.5" cy="455.5" r="4.1" fill="#066EB0"/>
<circle cx="265" cy="469.5" r="4.1" fill="#066EB0"/>
<circle cx="291.9" cy="456.2" r="4.1" fill="#066EB0"/>
<circle cx="287.1" cy="463.9" r="4.1" fill="#066EB0"/>
<circle cx="296" cy="463.3" r="4.1" fill="#066EB0"/>
<circle cx="293" cy="469.8" r="4.1" fill="#066EB0"/>
</g>
<rect x="40.4" y="351.2" width="278.3" height="233.8" fill="none" stroke="#000" stroke-width="1.45"/>
<line x1="76.1" y1="585" x2="76.1" y2="596" stroke="#000" stroke-width="1.45"/>
<text x="76.1" y="624.2" text-anchor="middle" font-size="18">-2</text>
<line x1="134.7" y1="585" x2="134.7" y2="596" stroke="#000" stroke-width="1.45"/>
<text x="134.7" y="624.2" text-anchor="middle" font-size="18">0</text>
<line x1="193.3" y1="585" x2="193.3" y2="596" stroke="#000" stroke-width="1.45"/>
<text x="193.3" y="624.2" text-anchor="middle" font-size="18">2</text>
<line x1="251.9" y1="585" x2="251.9" y2="596" stroke="#000" stroke-width="1.45"/>
<text x="251.9" y="624.2" text-anchor="middle" font-size="18">4</text>
<line x1="310.5" y1="585" x2="310.5" y2="596" stroke="#000" stroke-width="1.45"/>
<text x="310.5" y="624.2" text-anchor="middle" font-size="18">6</text>
<line x1="40.4" y1="406.04" x2="29.4" y2="406.04" stroke="#000" stroke-width="1.45"/>
<text transform="translate(14.7 406.54) rotate(-90)" text-anchor="middle" font-size="18">2</text>
<line x1="40.4" y1="464.7" x2="29.4" y2="464.7" stroke="#000" stroke-width="1.45"/>
<text transform="translate(14.7 465.2) rotate(-90)" text-anchor="middle" font-size="18">0</text>
<line x1="40.4" y1="523.36" x2="29.4" y2="523.36" stroke="#000" stroke-width="1.45"/>
<text transform="translate(14.7 523.86) rotate(-90)" text-anchor="middle" font-size="18">-2</text>
<line x1="40.4" y1="582.02" x2="29.4" y2="582.02" stroke="#000" stroke-width="1.45"/>
<text transform="translate(14.7 582.52) rotate(-90)" text-anchor="middle" font-size="18">-4</text>
<text x="180.8" y="345.6" text-anchor="middle" font-size="17.8" font-weight="bold">Poivre</text>
<text x="242.1" y="387.7" text-anchor="middle" font-size="18.5">Stress= 0.049</text>
<text x="242.7" y="409.2" text-anchor="middle" font-size="18.5">k=2</text>
<rect x="174.4" y="482.5" width="138.6" height="97.3" fill="#fff" stroke="#000" stroke-width="1.45"/>
<circle cx="189.05" cy="501.7" r="3.85" fill="#CB0022"/>
<text x="203.9" y="507.9" font-size="16">Assemblage 1</text>
<circle cx="189.05" cy="521.32" r="3.85" fill="#FFD700"/>
<text x="203.9" y="527.52" font-size="16">Assemblage 2</text>
<circle cx="189.05" cy="540.94" r="3.85" fill="#44CC82"/>
<text x="203.9" y="547.14" font-size="16">Assemblage 3</text>
<circle cx="189.05" cy="560.56" r="3.85" fill="#066EB0"/>
<text x="203.9" y="566.76" font-size="16">Assemblage 4</text>
<clipPath id="cAldabra"><rect x="405.6" y="351.2" width="278.2" height="233.8"/></clipPath>
<g clip-path="url(#cAldabra)">
<path d="M416 441.7L420.3 446L416 450.3L411.7 446Z" fill="#FFD700" shape-rendering="crispEdges"/>
<path d="M473 467L477.3 471.3L473 475.6L468.7 471.3Z" fill="#FFD700" shape-rendering="crispEdges"/>
<path d="M436 459.7L440.3 464L436 468.3L431.7 464Z" fill="#FFD700" shape-rendering="crispEdges"/>
<path d="M439.5 457.2L443.8 461.5L439.5 465.8L435.2 461.5Z" fill="#FFD700" shape-rendering="crispEdges"/>
<path d="M433.5 465.2L437.8 469.5L433.5 473.8L429.2 469.5Z" fill="#FFD700" shape-rendering="crispEdges"/>
<path d="M424.4 466.5L428.7 470.8L424.4 475.1L420.1 470.8Z" fill="#FFD700" shape-rendering="crispEdges"/>
<path d="M416 457.8L420.3 462.1L416 466.4L411.7 462.1Z" fill="#CB0022" shape-rendering="crispEdges"/>
<path d="M426 459.7L430.3 464L426 468.3L421.7 464Z" fill="#CB0022" shape-rendering="crispEdges"/>
<path d="M430 455.7L434.3 460L430 464.3L425.7 460Z" fill="#CB0022" shape-rendering="crispEdges"/>
<path d="M434 451.7L438.3 456L434 460.3L429.7 456Z" fill="#CB0022" shape-rendering="crispEdges"/>
<path d="M438.5 452.7L442.8 457L438.5 461.3L434.2 457Z" fill="#CB0022" shape-rendering="crispEdges"/>
<path d="M442.5 451.2L446.8 455.5L442.5 459.8L438.2 455.5Z" fill="#CB0022" shape-rendering="crispEdges"/>
<path d="M429 463.7L433.3 468L429 472.3L424.7 468Z" fill="#CB0022" shape-rendering="crispEdges"/>
<path d="M433 459.7L437.3 464L433 468.3L428.7 464Z" fill="#CB0022" shape-rendering="crispEdges"/>
<path d="M437.5 458.2L441.8 462.5L437.5 466.8L433.2 462.5Z" fill="#CB0022" shape-rendering="crispEdges"/>
<path d="M427.5 467.7L431.8 472L427.5 476.3L423.2 472Z" fill="#CB0022" shape-rendering="crispEdges"/>
<path d="M431 469.7L435.3 474L431 478.3L426.7 474Z" fill="#CB0022" shape-rendering="crispEdges"/>
<path d="M435 467.2L439.3 471.5L435 475.8L430.7 471.5Z" fill="#CB0022" shape-rendering="crispEdges"/>
<path d="M438 469.7L442.3 474L438 478.3L433.7 474Z" fill="#CB0022" shape-rendering="crispEdges"/>
<path d="M424 461.7L428.3 466L424 470.3L419.7 466Z" fill="#CB0022" shape-rendering="crispEdges"/>
<path d="M429 471.7L433.3 476L429 480.3L424.7 476Z" fill="#CB0022" shape-rendering="crispEdges"/>
<path d="M445.7 452L450 456.3L445.7 460.6L441.4 456.3Z" fill="#FFD700" shape-rendering="crispEdges"/>
<path d="M448 450.7L452.3 455L448 459.3L443.7 455Z" fill="#FFD700" shape-rendering="crispEdges"/>
<path d="M442.9 457.1L447.2 461.4L442.9 465.7L438.6 461.4Z" fill="#FFD700" shape-rendering="crispEdges"/>
<path d="M450.5 457.7L454.8 462L450.5 466.3L446.2 462Z" fill="#FFD700" shape-rendering="crispEdges"/>
<path d="M454 459.7L458.3 464L454 468.3L449.7 464Z" fill="#FFD700" shape-rendering="crispEdges"/>
<path d="M457.5 462.2L461.8 466.5L457.5 470.8L453.2 466.5Z" fill="#FFD700" shape-rendering="crispEdges"/>
<path d="M459.5 464.2L463.8 468.5L459.5 472.8L455.2 468.5Z" fill="#FFD700" shape-rendering="crispEdges"/>
<path d="M442.2 463.5L446.5 467.8L442.2 472.1L437.9 467.8Z" fill="#FFD700" shape-rendering="crispEdges"/>
<path d="M446 460.7L450.3 465L446 469.3L441.7 465Z" fill="#FFD700" shape-rendering="crispEdges"/>
<path d="M436.5 462.2L440.8 466.5L436.5 470.8L432.2 466.5Z" fill="#FFD700" shape-rendering="crispEdges"/>
<path d="M451 466.7L455.3 471L451 475.3L446.7 471Z" fill="#44CC82" shape-rendering="crispEdges"/>
<path d="M440 474.7L444.3 479L440 483.3L435.7 479Z" fill="#44CC82" shape-rendering="crispEdges"/>
<path d="M456 474.7L460.3 479L456 483.3L451.7 479Z" fill="#44CC82" shape-rendering="crispEdges"/>
<path d="M447 475.7L451.3 480L447 484.3L442.7 480Z" fill="#44CC82" shape-rendering="crispEdges"/>
<path d="M445 481.7L449.3 486L445 490.3L440.7 486Z" fill="#44CC82" shape-rendering="crispEdges"/>
<path d="M449 484.7L453.3 489L449 493.3L444.7 489Z" fill="#44CC82" shape-rendering="crispEdges"/>
<path d="M442 482.7L446.3 487L442 491.3L437.7 487Z" fill="#44CC82" shape-rendering="crispEdges"/>
<path d="M453 479.7L457.3 484L453 488.3L448.7 484Z" fill="#44CC82" shape-rendering="crispEdges"/>
<path d="M437 474.2L441.3 478.5L437 482.8L432.7 478.5Z" fill="#44CC82" shape-rendering="crispEdges"/>
<path d="M451 470.7L455.3 475L451 479.3L446.7 475Z" fill="#44CC82" shape-rendering="crispEdges"/>
<path d="M444 470.7L448.3 475L444 479.3L439.7 475Z" fill="#44CC82" shape-rendering="crispEdges"/>
<path d="M447 470.7L451.3 475L447 479.3L442.7 475Z" fill="#44CC82" shape-rendering="crispEdges"/>
<path d="M452 475.7L456.3 480L452 484.3L447.7 480Z" fill="#44CC82" shape-rendering="crispEdges"/>
<path d="M443 477.7L447.3 482L443 486.3L438.7 482Z" fill="#44CC82" shape-rendering="crispEdges"/>
<path d="M448 479.7L452.3 484L448 488.3L443.7 484Z" fill="#44CC82" shape-rendering="crispEdges"/>
<path d="M458.8 467.9L463.1 472.2L458.8 476.5L454.5 472.2Z" fill="#44CC82" shape-rendering="crispEdges"/>
<path d="M662.7 462.7L667 467L662.7 471.3L658.4 467Z" fill="#066EB0" shape-rendering="crispEdges"/>
<path d="M662.7 466.1L667 470.4L662.7 474.7L658.4 470.4Z" fill="#066EB0" shape-rendering="crispEdges"/>
<path d="M670.5 465.2L674.8 469.5L670.5 473.8L666.2 469.5Z" fill="#066EB0" shape-rendering="crispEdges"/>
<path d="M666.5 464.7L670.8 469L666.5 473.3L662.2 469Z" fill="#066EB0" shape-rendering="crispEdges"/>
</g>
<rect x="405.6" y="351.2" width="278.2" height="233.8" fill="none" stroke="#000" stroke-width="1.45"/>
<line x1="409" y1="585" x2="409" y2="596" stroke="#000" stroke-width="1.45"/>
<text x="409" y="624.2" text-anchor="middle" font-size="18">-1</text>
<line x1="458.5" y1="585" x2="458.5" y2="596" stroke="#000" stroke-width="1.45"/>
<text x="458.5" y="624.2" text-anchor="middle" font-size="18">0</text>
<line x1="508" y1="585" x2="508" y2="596" stroke="#000" stroke-width="1.45"/>
<text x="508" y="624.2" text-anchor="middle" font-size="18">1</text>
<line x1="557.5" y1="585" x2="557.5" y2="596" stroke="#000" stroke-width="1.45"/>
<text x="557.5" y="624.2" text-anchor="middle" font-size="18">2</text>
<line x1="607" y1="585" x2="607" y2="596" stroke="#000" stroke-width="1.45"/>
<text x="607" y="624.2" text-anchor="middle" font-size="18">3</text>
<line x1="656.5" y1="585" x2="656.5" y2="596" stroke="#000" stroke-width="1.45"/>
<text x="656.5" y="624.2" text-anchor="middle" font-size="18">4</text>
<line x1="405.6" y1="372.1" x2="394.6" y2="372.1" stroke="#000" stroke-width="1.45"/>
<text transform="translate(379.9 372.6) rotate(-90)" text-anchor="middle" font-size="18">2</text>
<line x1="405.6" y1="421.7" x2="394.6" y2="421.7" stroke="#000" stroke-width="1.45"/>
<text transform="translate(379.9 422.2) rotate(-90)" text-anchor="middle" font-size="18">1</text>
<line x1="405.6" y1="471.3" x2="394.6" y2="471.3" stroke="#000" stroke-width="1.45"/>
<text transform="translate(379.9 471.8) rotate(-90)" text-anchor="middle" font-size="18">0</text>
<line x1="405.6" y1="520.9" x2="394.6" y2="520.9" stroke="#000" stroke-width="1.45"/>
<text transform="translate(379.9 521.4) rotate(-90)" text-anchor="middle" font-size="18">-1</text>
<line x1="405.6" y1="570.5" x2="394.6" y2="570.5" stroke="#000" stroke-width="1.45"/>
<text transform="translate(379.9 571) rotate(-90)" text-anchor="middle" font-size="18">-2</text>
<text x="544.9" y="345.1" text-anchor="middle" font-size="17.6" font-weight="bold">Aldabra</text>
<text x="607.1" y="387.7" text-anchor="middle" font-size="18.5">Stress= 0.058</text>
<text x="607.7" y="409.2" text-anchor="middle" font-size="18.5">k=2</text>
<rect x="539.5" y="482.5" width="138.6" height="97.3" fill="#fff" stroke="#000" stroke-width="1.45"/>
<circle cx="554.15" cy="501.7" r="3.85" fill="#CB0022"/>
<text x="569" y="507.9" font-size="16">Assemblage 1</text>
<circle cx="554.15" cy="521.32" r="3.85" fill="#FFD700"/>
<text x="569" y="527.52" font-size="16">Assemblage 2</text>
<circle cx="554.15" cy="540.94" r="3.85" fill="#44CC82"/>
<text x="569" y="547.14" font-size="16">Assemblage 3</text>
<circle cx="554.15" cy="560.56" r="3.85" fill="#066EB0"/>
<text x="569" y="566.76" font-size="16">Assemblage 4</text>
</svg>
</body></html>
